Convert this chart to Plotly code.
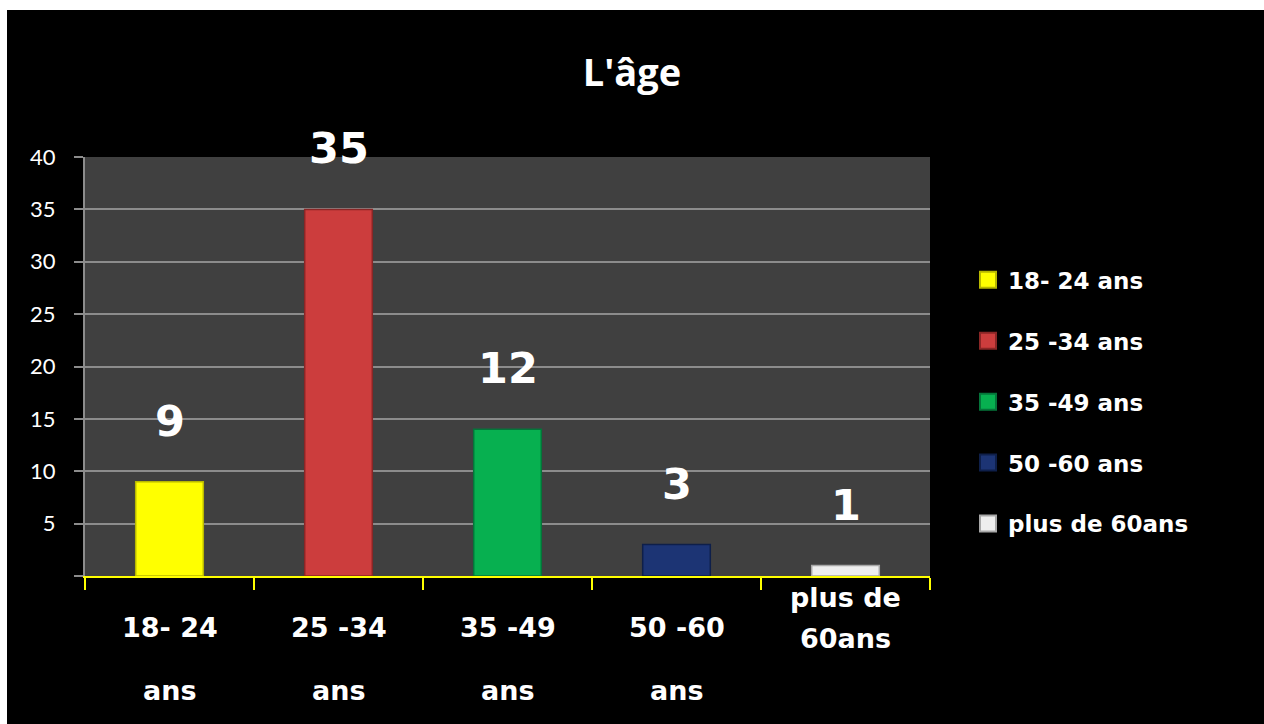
import plotly.graph_objects as go

# ---- data ----
categories = ["18- 24 ans", "25 -34 ans", "35 -49 ans", "50 -60 ans", "plus de 60ans"]
values = [9, 35, 14, 3, 1]
value_labels = ["9", "35", "12", "3", "1"]
tick_line1 = ["18- 24", "25 -34", "35 -49", "50 -60", "plus de"]
tick_line2 = ["ans", "ans", "ans", "ans", "60ans"]
y_ticks = [0, 5, 10, 15, 20, 25, 30, 35, 40]
y_ticktext = ["", "5", "10", "15", "20", "25", "30", "35", "40"]

colors = ["#ffff00", "#cc3d3d", "#07b050", "#1c3474", "#eeeeee"]
line_colors = ["#b8b800", "#8a2626", "#04753a", "#0e1f4a", "#a8a8a8"]

HEAVY = "DejaVu Sans"

fig = go.Figure()
for i, cat in enumerate(categories):
    fig.add_trace(go.Bar(
        x=[cat], y=[values[i]], name=cat, width=0.4,
        marker=dict(color=colors[i], line=dict(color=line_colors[i], width=1.5)),
        legendgroup=cat, showlegend=False, hoverinfo="x+y",
    ))
    # legend entry with a larger square swatch
    fig.add_trace(go.Scatter(
        x=[None], y=[None], mode="markers", name=cat, legendgroup=cat,
        marker=dict(symbol="square", size=16, color=colors[i],
                    line=dict(color=line_colors[i], width=2)),
        showlegend=True, hoverinfo="skip",
    ))

annotations = []
for i, cat in enumerate(categories):
    annotations.append(dict(x=cat, y=values[i], xref="x", yref="y", text=value_labels[i],
                            showarrow=False, yshift=61, yanchor="middle", xanchor="center",
                            font=dict(family=HEAVY, size=43, color="white", weight="bold")))
    if i < 4:
        s1, s2 = -51, -114
    else:
        s1, s2 = -21, -62
    annotations.append(dict(x=cat, y=0, xref="x", yref="y", text=tick_line1[i],
                            showarrow=False, yshift=s1, yanchor="middle", xanchor="center",
                            font=dict(family=HEAVY, size=27, color="white", weight="bold")))
    annotations.append(dict(x=cat, y=0, xref="x", yref="y", text=tick_line2[i],
                            showarrow=False, yshift=s2, yanchor="middle", xanchor="center",
                            font=dict(family=HEAVY, size=27, color="white", weight="bold")))

fig.update_layout(
    width=1257, height=714,
    margin=dict(l=78, r=334, t=147, b=148),
    paper_bgcolor="#000000",
    plot_bgcolor="#404040",
    barmode="overlay",
    title=dict(text="L'âge", x=(632 - 7) / 1257, xref="container", xanchor="center",
               y=1 - 63 / 714, yref="container", yanchor="middle",
               font=dict(family="Open Sans", size=38, color="white", weight="bold")),
    xaxis=dict(
        type="category", categoryorder="array", categoryarray=categories,
        showticklabels=False, tickson="boundaries", ticks="outside", ticklen=12,
        tickcolor="#ffff00", tickwidth=2,
        showline=True, linecolor="#ffff00", linewidth=2,
        showgrid=False, zeroline=False,
    ),
    yaxis=dict(
        range=[0, 40], tickvals=y_ticks, ticktext=y_ticktext,
        ticks="outside", ticklen=9, tickcolor="#8c8c8c", tickwidth=2,
        ticklabelstandoff=14,
        tickfont=dict(family="Lato", size=22, color="white"),
        showgrid=True, gridcolor="#8c8c8c", gridwidth=2,
        showline=True, linecolor="#8c8c8c", linewidth=2,
        zeroline=False,
    ),
    legend=dict(
        x=1.045, y=0.758, xanchor="left", yanchor="top",
        bgcolor="rgba(0,0,0,0)",
        font=dict(family=HEAVY, size=23, color="white", weight="bold"),
        traceorder="grouped", tracegroupgap=28,
    ),
    annotations=annotations,
    showlegend=True,
)

fig.write_html(
    "out.html",
    post_script="document.body.style.margin='10px 0 0 7px';document.body.style.overflow='hidden';",
)
